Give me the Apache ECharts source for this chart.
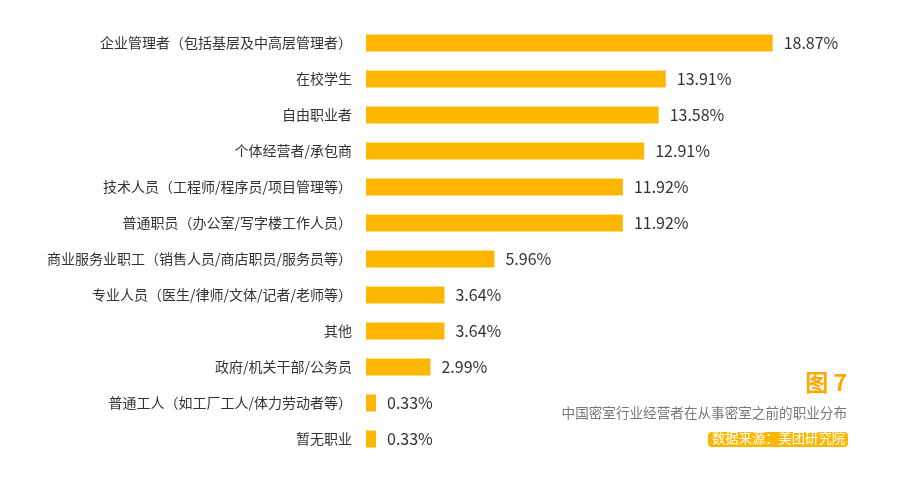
<!DOCTYPE html>
<html>
<head>
<meta charset="utf-8">
<script src="https://cdn.jsdelivr.net/npm/echarts@6/dist/echarts.min.js"></script>
<style>html,body{margin:0;padding:0;background:#fff}#c{width:897px;height:482px}</style>
</head>
<body>
<div id="c"></div>
<script>
const categories = [
  '企业管理者（包括基层及中高层管理者）',
  '在校学生',
  '自由职业者',
  '个体经营者/承包商',
  '技术人员（工程师/程序员/项目管理等）',
  '普通职员（办公室/写字楼工作人员）',
  '商业服务业职工（销售人员/商店职员/服务员等）',
  '专业人员（医生/律师/文体/记者/老师等）',
  '其他',
  '政府/机关干部/公务员',
  '普通工人（如工厂工人/体力劳动者等）',
  '暂无职业'
];
const values = [18.87, 13.91, 13.58, 12.91, 11.92, 11.92, 5.96, 3.64, 3.64, 2.99, 0.33, 0.33];
const figureTitle = '图 7';
const subtitle = '中国密室行业经营者在从事密室之前的职业分布';
const sourceText = '数据来源：美团研究院';

const FONT = '"Noto Sans CJK SC", "Noto Sans", sans-serif';
const chart = echarts.init(document.getElementById('c'), null, {renderer: 'canvas'});
chart.setOption({
  animation: false,
  backgroundColor: '#ffffff',
  grid: {left: 366, right: 100, top: 25, bottom: 25, containLabel: false},
  xAxis: {type: 'value', min: 0, max: 20, show: false},
  yAxis: {
    type: 'category', data: categories, inverse: true,
    axisLine: {show: false}, axisTick: {show: false}, splitLine: {show: false},
    axisLabel: {color: '#333333', fontSize: 14, fontFamily: FONT, margin: 14}
  },
  series: [{
    type: 'bar',
    data: values,
    barWidth: 17,
    barMinHeight: 10,
    itemStyle: {color: '#FDB702'},
    label: {
      show: true, position: 'right', distance: 11,
      color: '#333333', fontSize: 16, fontFamily: FONT,
      formatter: p => p.value.toFixed(2) + '%'
    }
  }],
  graphic: [
    {type: 'text', right: 50, top: 371, style: {text: figureTitle, fill: '#FFA800', font: 'bold 23px ' + FONT}},
    {type: 'text', right: 50, top: 406, style: {text: subtitle, fill: '#777777', font: '13.6px ' + FONT}},
    {type: 'rect', right: 49, top: 432, shape: {width: 140, height: 15, r: 4}, style: {fill: '#FDB702'}},
    {type: 'text', right: 52, top: 431, style: {text: sourceText, fill: '#ffffff', font: '13.3px ' + FONT}}
  ]
});
</script>
</body>
</html>
